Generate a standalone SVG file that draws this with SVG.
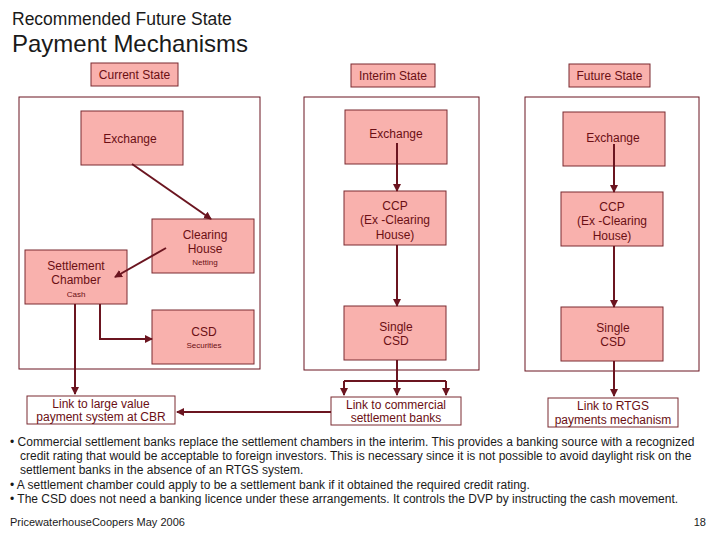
<svg xmlns="http://www.w3.org/2000/svg" width="720" height="540" viewBox="0 0 720 540">
<defs>
<marker id="ah" markerWidth="8" markerHeight="8" refX="7" refY="4" orient="auto" markerUnits="userSpaceOnUse"><path d="M0,0 L8,4 L0,8 Z" fill="#6b1520"/></marker>
<style>
text{font-family:"Liberation Sans",Arial,sans-serif;fill:#6b0f14}
.n{fill:#f9b1ad;stroke:#7a2a30;stroke-width:1}
.w{fill:#fff;stroke:#7a2a30;stroke-width:1}
.f{fill:none;stroke:#6b1520;stroke-width:1}
.c{stroke:#6b1520;stroke-width:2;fill:none}
.t{font-size:12px;text-anchor:middle}
.s{font-size:8px;text-anchor:middle}
.b{font-size:12px;fill:#1a1a1a}
</style>
</defs>
<rect width="720" height="540" fill="#fff"/>
<text x="12" y="25" style="font-size:17.5px;fill:#1a1a1a">Recommended Future State</text>
<text x="12" y="52" style="font-size:24px;fill:#1a1a1a">Payment Mechanisms</text>
<rect class="f" x="19" y="97" width="241" height="272"/>
<rect class="f" x="304" y="97" width="175" height="273"/>
<rect class="f" x="525" y="97" width="174" height="274"/>
<g id="hdr-current"><rect class="n" x="91" y="63" width="87" height="23"/><text class="t" x="134.5" y="79">Current State</text></g>
<g id="hdr-interim"><rect class="n" x="351" y="64" width="84" height="23"/><text class="t" x="393" y="80">Interim State</text></g>
<g id="hdr-future"><rect class="n" x="569" y="64" width="81" height="23"/><text class="t" x="609.5" y="80">Future State</text></g>
<g id="c-exchange"><rect class="n" x="81" y="111" width="102" height="54"/><text class="t" x="130" y="143">Exchange</text></g>
<g id="c-clearing"><rect class="n" x="152" y="219" width="102" height="54"/><text class="t" x="205" y="239">Clearing</text><text class="t" x="205" y="253">House</text><text class="s" x="205" y="265">Netting</text></g>
<g id="c-settlement"><rect class="n" x="25" y="250" width="102" height="54"/><text class="t" x="76" y="270">Settlement</text><text class="t" x="76" y="284">Chamber</text><text class="s" x="76" y="297">Cash</text></g>
<g id="c-csd"><rect class="n" x="152" y="310" width="102" height="54"/><text class="t" x="204" y="336">CSD</text><text class="s" x="204" y="348">Securities</text></g>
<g id="c-link"><rect class="w" x="27" y="396" width="148" height="28"/><text class="t" x="101" y="408">Link to large value</text><text class="t" x="101" y="421">payment system at CBR</text></g>
<g id="i-exchange"><rect class="n" x="345" y="110" width="102" height="54"/><text class="t" x="396" y="138">Exchange</text></g>
<g id="i-ccp"><rect class="n" x="344" y="191" width="102" height="54"/><text class="t" x="395" y="210">CCP</text><text class="t" x="395" y="224">(Ex -Clearing</text><text class="t" x="395" y="239">House)</text></g>
<g id="i-csd"><rect class="n" x="344" y="306" width="102" height="54"/><text class="t" x="396" y="331">Single</text><text class="t" x="396" y="345">CSD</text></g>
<g id="i-link"><rect class="w" x="331" y="397" width="130" height="28"/><text class="t" x="396" y="409">Link to commercial</text><text class="t" x="396" y="422">settlement banks</text></g>
<g id="f-exchange"><rect class="n" x="563" y="112" width="102" height="54"/><text class="t" x="613" y="142">Exchange</text></g>
<g id="f-ccp"><rect class="n" x="561" y="192" width="102" height="54"/><text class="t" x="612" y="211">CCP</text><text class="t" x="612" y="225">(Ex -Clearing</text><text class="t" x="612" y="240">House)</text></g>
<g id="f-csd"><rect class="n" x="561" y="307" width="102" height="54"/><text class="t" x="613" y="332">Single</text><text class="t" x="613" y="346">CSD</text></g>
<g id="f-link"><rect class="w" x="548" y="398" width="130" height="29"/><text class="t" x="613" y="410">Link to RTGS</text><text class="t" x="613" y="424">payments mechanism</text></g>
<g id="connectors">
<path class="c" d="M132,164 L211,219" marker-end="url(#ah)"/>
<path class="c" d="M166,248 L115,277" marker-end="url(#ah)"/>
<path class="c" d="M100,304 V339 H152" marker-end="url(#ah)"/>
<path class="c" d="M75,304 V394" marker-end="url(#ah)"/>
<path class="c" d="M331,412 H177" marker-end="url(#ah)"/>
<path class="c" d="M397,143 V191" marker-end="url(#ah)"/>
<path class="c" d="M397,245 V306" marker-end="url(#ah)"/>
<path class="c" d="M397,360 V395" marker-end="url(#ah)"/>
<path class="c" d="M344,381 H446"/>
<path class="c" d="M344,381 V395" marker-end="url(#ah)"/>
<path class="c" d="M446,381 V395" marker-end="url(#ah)"/>
<path class="c" d="M614,144 V192" marker-end="url(#ah)"/>
<path class="c" d="M614,246 V307" marker-end="url(#ah)"/>
<path class="c" d="M614,361 V396" marker-end="url(#ah)"/>
</g>
<text class="b" x="10" y="446">• Commercial settlement banks replace the settlement chambers in the interim. This provides a banking source with a recognized</text>
<text class="b" x="20" y="460">credit rating that would be acceptable to foreign investors. This is necessary since it is not possible to avoid daylight risk on the</text>
<text class="b" x="20" y="474">settlement banks in the absence of an RTGS system.</text>
<text class="b" x="10" y="489">• A settlement chamber could apply to be a settlement bank if it obtained the required credit rating.</text>
<text class="b" x="10" y="503">• The CSD does not need a banking licence under these arrangements. It controls the DVP by instructing the cash movement.</text>
<text x="10" y="526" style="font-size:11px;fill:#1a1a1a">PricewaterhouseCoopers May 2006</text>
<text x="706" y="526" style="font-size:11px;fill:#1a1a1a;text-anchor:end">18</text>
</svg>
